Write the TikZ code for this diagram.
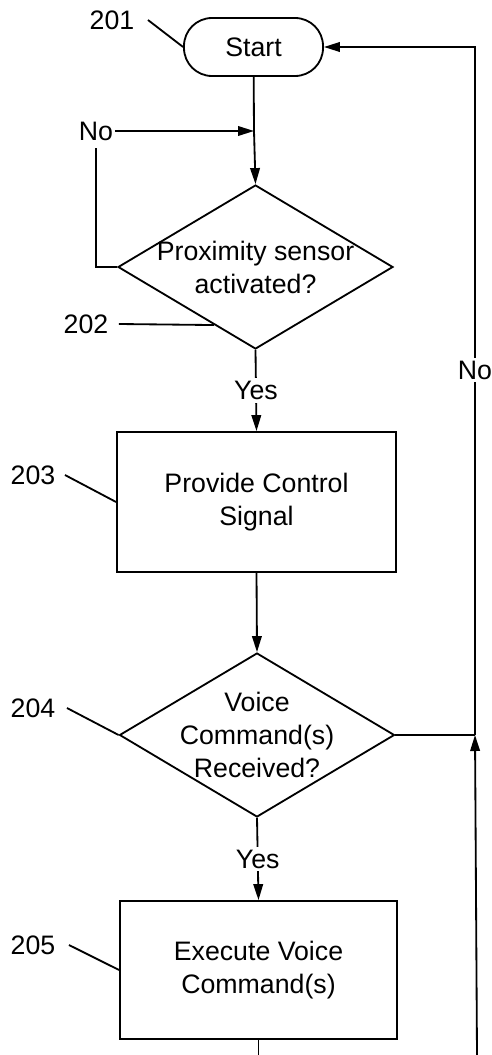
\documentclass[tikz,border=0pt]{standalone}
\usepackage{fontspec}
\setmainfont{Liberation Sans}
\usetikzlibrary{positioning,calc,shapes.geometric,arrows.meta}
\tikzset{
  term/.style={draw,rounded corners=7mm,minimum width=34.75mm,minimum height=14.5mm,line width=1.3pt,font=\fontsize{19}{23}\selectfont},
  procbox/.style={draw,minimum width=69.75mm,minimum height=35mm,line width=1.3pt},
  decide/.style={draw,diamond,minimum width=68.75mm,minimum height=41mm,inner sep=0pt,line width=1.3pt},
  txt/.style={align=center,font=\fontsize{19}{23.5}\selectfont,inner sep=0pt},
}
\tikzset{num/.style={font=\fontsize{19}{23}\selectfont,inner sep=1pt}, flow/.style={line width=1.3pt}, arr/.style={flow,-{Triangle[length=4mm,width=2.4mm]}}, yn/.style={fill=white,font=\fontsize{19}{23}\selectfont,inner sep=2pt}}

\begin{document}
\begin{tikzpicture}[x=0.25mm,y=-0.25mm]
\useasboundingbox (0,0) rectangle (492,1055);
% main column
\node[term] (start) at (253.5,47) {Start};
\node[decide] (prox) at (255.5,267) {};
\node[txt] (proxtext) at (prox) {Proximity sensor\\activated?};
\node[procbox,txt] (ctrl) at (256.5,502) {Provide Control\\Signal};
\node[decide] (voice) at (257,735) {};
\node[txt] (voicetext) at (voice) {Voice\\Command(s)\\Received?};
\node[procbox,txt,minimum width=69.25mm,minimum height=34.5mm] (exec) at (258.5,970) {Execute Voice\\Command(s)};
% reference numbers
\node[num] (n201) at (112,20) {201};
\node[num] (n202) at (86,324) {202};
\node[num] (n203) at (33,475) {203};
\node[num] (n204) at (33,708) {204};
\node[num] (n205) at (33,945) {205};
\draw[flow] ($(n201.east)+(12,0)$) -- (start.west);
\draw[flow] ($(n202.east)+(9,0)$) -- ($(prox.west)!0.7!(prox.south)$);
\draw[flow] ($(n203.east)+(8,0)$) -- (ctrl.west);
\draw[flow] ($(n204.east)+(10,0)$) -- (voice.west);
\draw[flow] ($(n205.east)+(12,0)$) -- (exec.west);
% connectors
\coordinate (join) at (254,131);
\coordinate (rmid) at (475,735);
\coordinate (rtop) at (475,47);
\coordinate (rbot) at (477,1055);
\coordinate (ebot) at (258.5,1055);
\node[num] (noleft) at (96,131) {No};
\draw[flow] (start) -- (join);
\draw[arr] (join) -- (prox.north);
\draw[arr] (noleft.east) -- (join);
\draw[flow] (prox.west) -| ([yshift=-1.5mm]noleft.south);
\draw[arr] (prox.south) -- node[yn]{Yes} (ctrl.north);
\draw[arr] (ctrl.south) -- (voice.north);
\draw[arr] (voice.south) -- node[yn]{Yes} (exec.north);
\draw[flow] (voice.east) -- (rmid);
\draw[arr] (rbot) -- (rmid);
\draw[arr] (rmid) -- node[yn,pos=0.53]{No} (rtop) -- (start.east);
\draw[flow] (exec.south) -- (ebot);
\end{tikzpicture}
\end{document}
